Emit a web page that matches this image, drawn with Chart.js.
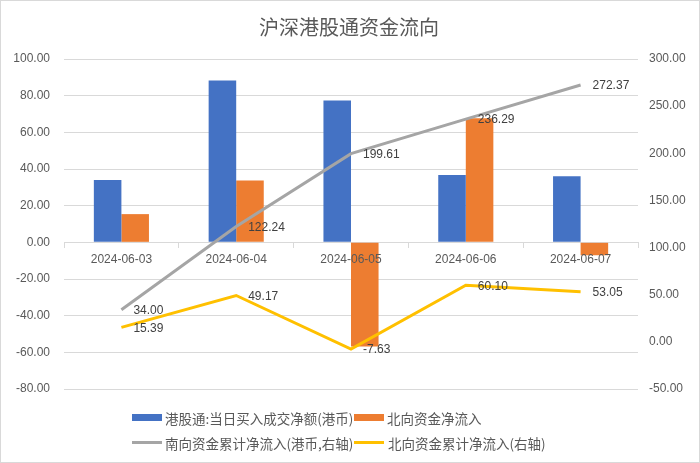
<!DOCTYPE html>
<html><head><meta charset="utf-8">
<script src="https://cdn.jsdelivr.net/npm/chart.js@4/dist/chart.umd.min.js"></script>
<style>
html,body{margin:0;padding:0;background:#fff;}
#wrap{position:relative;width:700px;height:463px;box-sizing:border-box;border:1px solid #d9d9d9;overflow:hidden;}
canvas{position:absolute;left:0;top:0;}
.lg{position:absolute;font-family:"Noto Sans CJK SC","Noto Sans",sans-serif;font-size:13.5px;color:#595959;white-space:nowrap;line-height:16px;}
.sw{position:absolute;}
</style></head>
<body>
<div id="wrap">
<canvas id="c" width="700" height="463"></canvas>
</div>
<script>
const categories = ['2024-06-03','2024-06-04','2024-06-05','2024-06-06','2024-06-07'];
const southDaily = [34.00, 88.24, 77.37, 36.68, 36.08];
const northDaily = [15.39, 33.78, -56.80, 67.73, -7.05];
const southCum = [34.00, 122.24, 199.61, 236.29, 272.37];
const northCum = [15.39, 49.17, -7.63, 60.10, 53.05];
const seriesNames = ['港股通:当日买入成交净额(港币)','北向资金净流入','南向资金累计净流入(港币,右轴)','北向资金累计净流入(右轴)'];
const colors = ['#4472C4','#ED7D31','#A5A5A5','#FFC000'];
const title = '沪深港股通资金流向';

const FONT = '"Noto Sans CJK SC","Noto Sans",sans-serif';
const NUMFONT = '"Liberation Sans","Noto Sans",sans-serif';

const labelPlugin = {
  id:'lineLabels',
  afterDatasetsDraw(chart){
    const ctx = chart.ctx;
    ctx.save();
    ctx.font = '12px ' + NUMFONT;
    ctx.fillStyle = '#404040';
    ctx.textAlign = 'left';
    ctx.textBaseline = 'middle';
    [2,3].forEach(i=>{
      const meta = chart.getDatasetMeta(i);
      const data = chart.data.datasets[i].data;
      meta.data.forEach((pt,j)=>{
        ctx.fillText(data[j].toFixed(2), pt.x + 12, pt.y + 1);
      });
    });
    ctx.restore();
  }
};

new Chart(document.getElementById('c'), {
  data:{
    labels:categories,
    datasets:[
      {type:'bar',label:seriesNames[0],data:southDaily,backgroundColor:colors[0],yAxisID:'y',order:2,categoryPercentage:0.48,barPercentage:1},
      {type:'bar',label:seriesNames[1],data:northDaily,backgroundColor:colors[1],yAxisID:'y',order:2,categoryPercentage:0.48,barPercentage:1},
      {type:'line',label:seriesNames[2],data:southCum,borderColor:colors[2],backgroundColor:colors[2],borderWidth:3,pointRadius:0,yAxisID:'y1',order:1,tension:0},
      {type:'line',label:seriesNames[3],data:northCum,borderColor:colors[3],backgroundColor:colors[3],borderWidth:3,pointRadius:0,yAxisID:'y1',order:1,tension:0}
    ]
  },
  options:{
    responsive:false,
    animation:false,
    layout:{padding:{left:10,right:14,top:8,bottom:75}},
    plugins:{
      legend:{display:false},
      tooltip:{enabled:false},
      title:{display:true,text:title,color:'#595959',font:{family:FONT,size:20,weight:'normal'},padding:{top:6,bottom:20}}
    },
    scales:{
      x:{
        position:{y:0},
        grid:{display:true,drawOnChartArea:false,drawTicks:true,tickLength:5,color:'#d9d9d9',offset:true},
        border:{display:true,color:'#d9d9d9'},
        ticks:{z:1,color:'#595959',font:{family:NUMFONT,size:12},padding:5,maxRotation:0}
      },
      y:{
        position:'left',min:-80,max:100,
        afterFit:s=>{s.width=53;},
        ticks:{stepSize:20,color:'#595959',font:{family:NUMFONT,size:12},padding:14,callback:v=>v.toFixed(2)},
        grid:{color:'#d9d9d9',drawTicks:false},
        border:{display:false}
      },
      y1:{
        position:'right',min:-50,max:300,
        afterFit:s=>{s.width=49;},
        ticks:{stepSize:50,color:'#595959',font:{family:NUMFONT,size:12},padding:11,callback:v=>v.toFixed(2)},
        grid:{display:false,drawTicks:false},
        border:{display:false}
      }
    }
  },
  plugins:[labelPlugin]
});

// HTML legend
const wrap = document.getElementById('wrap');
const legendPos = [
  {x:132,y:418,text:165,kind:'box'},
  {x:354,y:418,text:387,kind:'box'},
  {x:132,y:443,text:165,kind:'line'},
  {x:354,y:443,text:388,kind:'line'}
];
legendPos.forEach((p,i)=>{
  const sw = document.createElement('div');
  sw.className='sw';
  sw.style.left=(p.x-1)+'px';
  sw.style.width='30px';
  sw.style.background=colors[i];
  if(p.kind==='box'){sw.style.top=(p.y-4-1)+'px';sw.style.height='7px';}
  else {sw.style.top=(p.y-2-1)+'px';sw.style.height='3px';}
  wrap.appendChild(sw);
  const t = document.createElement('div');
  t.className='lg';
  t.textContent=seriesNames[i];
  t.style.left=(p.text-1)+'px';
  t.style.top=(p.y-8-1)+'px';
  wrap.appendChild(t);
});
</script>
</body></html>
